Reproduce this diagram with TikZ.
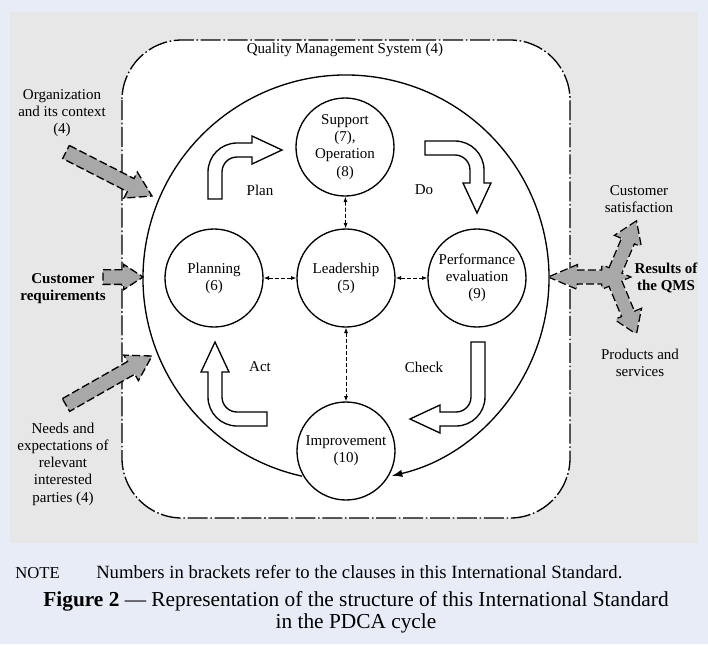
\documentclass[tikz,border=0pt]{standalone}
\usepackage{fontspec}
\setmainfont{Liberation Serif}
\usetikzlibrary{arrows.meta,calc}

\definecolor{pagebg}{HTML}{E8ECF6}
\definecolor{panelbg}{HTML}{E7E7E7}
\definecolor{arrowgray}{HTML}{A8A8A8}

\newcommand\lblfont{\fontsize{11.25pt}{12.9pt}\selectfont}

\tikzset{
  stage/.style={circle, draw, line width=1pt, fill=white, minimum size=73.5pt,
    inner sep=0pt, align=center, font=\lblfont},
  label text/.style={align=center, font=\lblfont, inner sep=0pt},
  link/.style={line width=0.6pt, dash pattern=on 3pt off 1.6pt,
    {Latex[length=4pt,width=3pt]}-{Latex[length=4pt,width=3pt]}},
  qmsbox/.style={line width=1pt, fill=white, rounded corners=45pt,
    dash pattern=on 15pt off 2pt on 1.2pt off 2pt},
  pdca ring/.style={line width=1pt, -{Latex[length=8pt,width=5.5pt]}},
  hollow/.style={line width=1pt, fill=white, line join=miter},
  gsingle/.style={fill=arrowgray, draw, line width=1pt, dash pattern=on 6pt off 2.5pt},
  gouter/.style={draw, line width=2pt, dash pattern=on 6pt off 2.5pt},
  ginner/.style={fill=arrowgray},
}

% hollow bent arrow: start of the flat end, rotation, first leg, second leg
\newcommand\bentarrow[4]{%
  \begin{scope}[shift={(#1)}, rotate=#2]
    \draw[hollow] (-7,0) -- (-7,{-#3+22})
      arc[start angle=180, end angle=270, radius=29]
      -- ({#4-30},{-#3-7}) -- ({#4-30},{-#3-14}) -- (#4,-#3)
      -- ({#4-30},{-#3+14}) -- ({#4-30},{-#3+7}) -- (22,{-#3+7})
      arc[start angle=270, end angle=180, radius=15]
      -- (7,0) -- cycle;
  \end{scope}}

% block arrow: style, tail, tip, half shaft, half head, head length
\newcommand\blockarrow[6]{%
  \coordinate (ba-base) at ($(#3)!#6!(#2)$);
  \path[#1] ($(#2)!#4!90:(#3)$) -- ($(ba-base)!#4!90:(#3)$)
    -- ($(ba-base)!#5!90:(#3)$) -- (#3)
    -- ($(ba-base)!#5!-90:(#3)$) -- ($(ba-base)!#4!-90:(#3)$)
    -- ($(#2)!#4!-90:(#3)$) -- cycle;}

% double-headed block arrow: style, end one, end two, half shaft, half head, head length
\newcommand\twowayarrow[6]{%
  \coordinate (ba-one) at ($(#2)!#6!(#3)$);
  \coordinate (ba-two) at ($(#3)!#6!(#2)$);
  \path[#1] (#2) -- ($(ba-one)!#5!90:(#3)$) -- ($(ba-one)!#4!90:(#3)$)
    -- ($(ba-two)!#4!90:(#3)$) -- ($(ba-two)!#5!90:(#3)$) -- (#3)
    -- ($(ba-two)!#5!-90:(#3)$) -- ($(ba-two)!#4!-90:(#3)$)
    -- ($(ba-one)!#4!-90:(#3)$) -- ($(ba-one)!#5!-90:(#3)$) -- cycle;}

\begin{document}
\begin{tikzpicture}[x=0.75pt, y=-0.75pt]
\useasboundingbox (0,0) rectangle (708,644);
\fill[pagebg] (0,0) rectangle (708,644);
\fill[panelbg] (10,12) rectangle (698,543);

% quality management system frame
\draw[qmsbox] (122,40) rectangle (570,518);
\node[label text] (qmslabel) at (345,50) {Quality Management System (4)};

% PDCA ring
\coordinate (hub) at (346,278);
\draw[pdca ring] ($(hub)+(102.5:203)$) arc[start angle=102.5, end angle=437, radius=203];

% bent arrows of the cycle
\bentarrow{215,199}{0}{49}{67}
\bentarrow{425,148}{-90}{52}{65}
\bentarrow{478,342}{180}{77}{68}
\bentarrow{267,419}{90}{52}{77}

\node[label text] (plan-l) at (260,190) {Plan};
\node[label text] (do-l) at (424,190) {Do};
\node[label text] (act-l) at (260,367) {Act};
\node[label text] (check-l) at (424,367) {Check};

% clauses
\node[stage] (sup) at (345,147) {Support\\(7),\\Operation\\(8)};
\node[stage] (lead) at (346,278) {Leadership\\(5)};
\node[stage] (plan) at (214,278) {Planning\\(6)};
\node[stage] (perf) at (477,278) {Performance\\evaluation\\(9)};
\node[stage] (imp) at (346,451) {Improvement\\(10)};

\draw[link] (sup) -- (lead);
\draw[link] (lead) -- (imp);
\draw[link] (plan) -- (lead);
\draw[link] (lead) -- (perf);

% inputs
\coordinate (org-t) at (66,152);  \coordinate (org-h) at (152,196);
\coordinate (req-t) at (103,277); \coordinate (req-h) at (143,277);
\coordinate (need-t) at (66,405); \coordinate (need-h) at (152,356);
\blockarrow{gsingle}{org-t}{org-h}{5.5pt}{11pt}{18pt}
\blockarrow{gsingle}{req-t}{req-h}{5.5pt}{9.5pt}{14.5pt}
\blockarrow{gsingle}{need-t}{need-h}{5.5pt}{11pt}{18pt}

% results
\coordinate (res-l) at (550,277); \coordinate (res-r) at (629,277);
\coordinate (fork-a) at (611,281); \coordinate (sat-h) at (636,222);
\coordinate (fork-b) at (611,273); \coordinate (prod-h) at (636,333);
\twowayarrow{gouter}{res-l}{res-r}{4.7pt}{8.5pt}{20pt}
\blockarrow{gouter}{fork-a}{sat-h}{4.7pt}{10pt}{15pt}
\blockarrow{gouter}{fork-b}{prod-h}{4.7pt}{10pt}{15pt}
\twowayarrow{ginner}{res-l}{res-r}{4.7pt}{8.5pt}{20pt}
\blockarrow{ginner}{fork-a}{sat-h}{4.7pt}{10pt}{15pt}
\blockarrow{ginner}{fork-b}{prod-h}{4.7pt}{10pt}{15pt}

% outside labels
\node[label text] (org-l) at (62,113) {Organization\\and its context\\(4)};
\node[label text, font=\lblfont\bfseries] (req-l) at (63,289) {Customer\\requirements};
\node[label text] (need-l) at (63,464) {Needs and\\expectations of\\relevant\\interested\\parties (4)};
\node[label text] (sat-l) at (639,199) {Customer\\satisfaction};
\node[label text, font=\lblfont\bfseries] (res-lbl) at (666,278) {Results of\\the QMS};
\node[label text] (prod-l) at (640,363) {Products and\\services};

% note and caption
\node[anchor=base west, inner sep=0pt, font=\fontsize{12.5pt}{14pt}\selectfont] (note) at (15,578) {NOTE};
\node[anchor=base west, inner sep=0pt, font=\fontsize{14pt}{16pt}\selectfont] (note-t) at (96,578)
  {Numbers in brackets refer to the clauses in this International Standard.};
\node[anchor=base, inner sep=0pt, font=\fontsize{16pt}{18pt}\selectfont] (cap1) at (356,606)
  {\textbf{Figure 2} — Representation of the structure of this International Standard};
\node[anchor=base, inner sep=0pt, font=\fontsize{16pt}{18pt}\selectfont] (cap2) at (356,628)
  {in the PDCA cycle};
\end{tikzpicture}
\end{document}
